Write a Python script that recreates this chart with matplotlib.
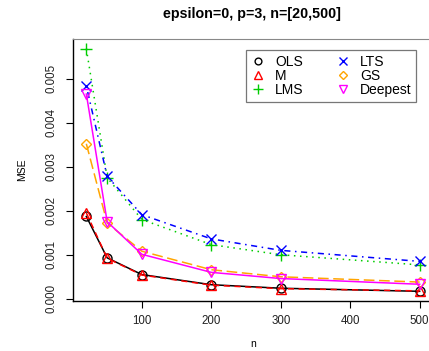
import matplotlib
matplotlib.use("Agg")
import matplotlib.pyplot as plt
from matplotlib.lines import Line2D

plt.rcParams['font.family'] = ['Liberation Sans', 'DejaVu Sans']

# sample sizes
n = [20, 50, 100, 200, 300, 500]

# MSE per estimator
ols = [0.00187, 0.00093, 0.00055, 0.00032, 0.00024, 0.00017]
m_est = [0.00195, 0.00092, 0.00054, 0.00031, 0.00023, 0.00018]
lms = [0.00568, 0.00275, 0.00180, 0.00123, 0.00100, 0.00077]
lts = [0.00483, 0.00278, 0.00191, 0.00136, 0.00110, 0.00085]
gs = [0.00352, 0.00172, 0.00108, 0.00066, 0.00050, 0.00038]
deepest = [0.00465, 0.00175, 0.00101, 0.00060, 0.00046, 0.00033]

labels = ["OLS", "M", "LMS", "LTS", "GS", "Deepest"]
series = [ols, m_est, lms, lts, gs, deepest]
colors = ["black", "red", "#00cd00", "blue", "orange", "magenta"]
markers = ["o", "^", "+", "x", "D", "v"]
styles = ["-", (0, (4, 3)), (0, (1, 3)), (0, (1, 3, 4, 3)), (0, (7, 3)), "-"]
msizes = [6.5, 7, 9, 7, 5.5, 7.5]

fig = plt.figure(figsize=(4.29, 3.51), dpi=100)
ax = fig.add_axes([73/429, 50/351, 360/429, 262/351])

for y, c, mk, ls, ms in zip(series, colors, markers, styles, msizes):
    ax.plot(n, y, color=c, linestyle=ls, linewidth=1.1, marker=mk,
            markersize=ms, markerfacecolor="none", markeredgecolor=c,
            markeredgewidth=1.0)

ax.set_xlim(0.8, 519.2)
ax.set_ylim(-0.00005, 0.0059)
ax.set_xticks([100, 200, 300, 400, 500])
ax.set_yticks([0.000, 0.001, 0.002, 0.003, 0.004, 0.005])
ax.set_yticklabels(["0.000", "0.001", "0.002", "0.003", "0.004", "0.005"],
                   rotation=90, va="center")
ax.tick_params(direction="out", length=5, width=0.8, labelsize=8.3,
               labelcolor="#222222")
ax.tick_params(axis="x", pad=5)
ax.tick_params(axis="y", pad=6)

ax.spines["right"].set_visible(False)
ax.spines["top"].set_color("#888888")
ax.spines["left"].set_linewidth(1.0)
ax.spines["bottom"].set_linewidth(1.0)

ax.set_xlabel("n", fontsize=7.5, labelpad=9)
ax.set_ylabel("MSE", fontsize=7.5, labelpad=13.5)
fig.text(252/429, 1 - 14/351, "epsilon=0, p=3, n=[20,500]", ha="center",
         va="center", fontsize=10.3, fontweight="bold")

handles = [Line2D([], [], color=c, marker=mk, linestyle="none",
                  markerfacecolor="none", markersize=ms * 0.75,
                  markeredgewidth=1.0)
           for c, mk, ms in zip(colors, markers, msizes)]
leg = ax.legend(handles, labels, ncol=2, loc="upper left",
                bbox_to_anchor=(246/429, 1 - 50/351),
                bbox_transform=fig.transFigure, fontsize=10,
                frameon=True, fancybox=False, borderpad=0.35, borderaxespad=0,
                handlelength=1.0, handletextpad=0.75, columnspacing=2.3,
                labelspacing=0.0)
leg.get_frame().set_edgecolor("#555555")
leg.get_frame().set_linewidth(0.9)

fig.savefig("out.png", dpi=100)
